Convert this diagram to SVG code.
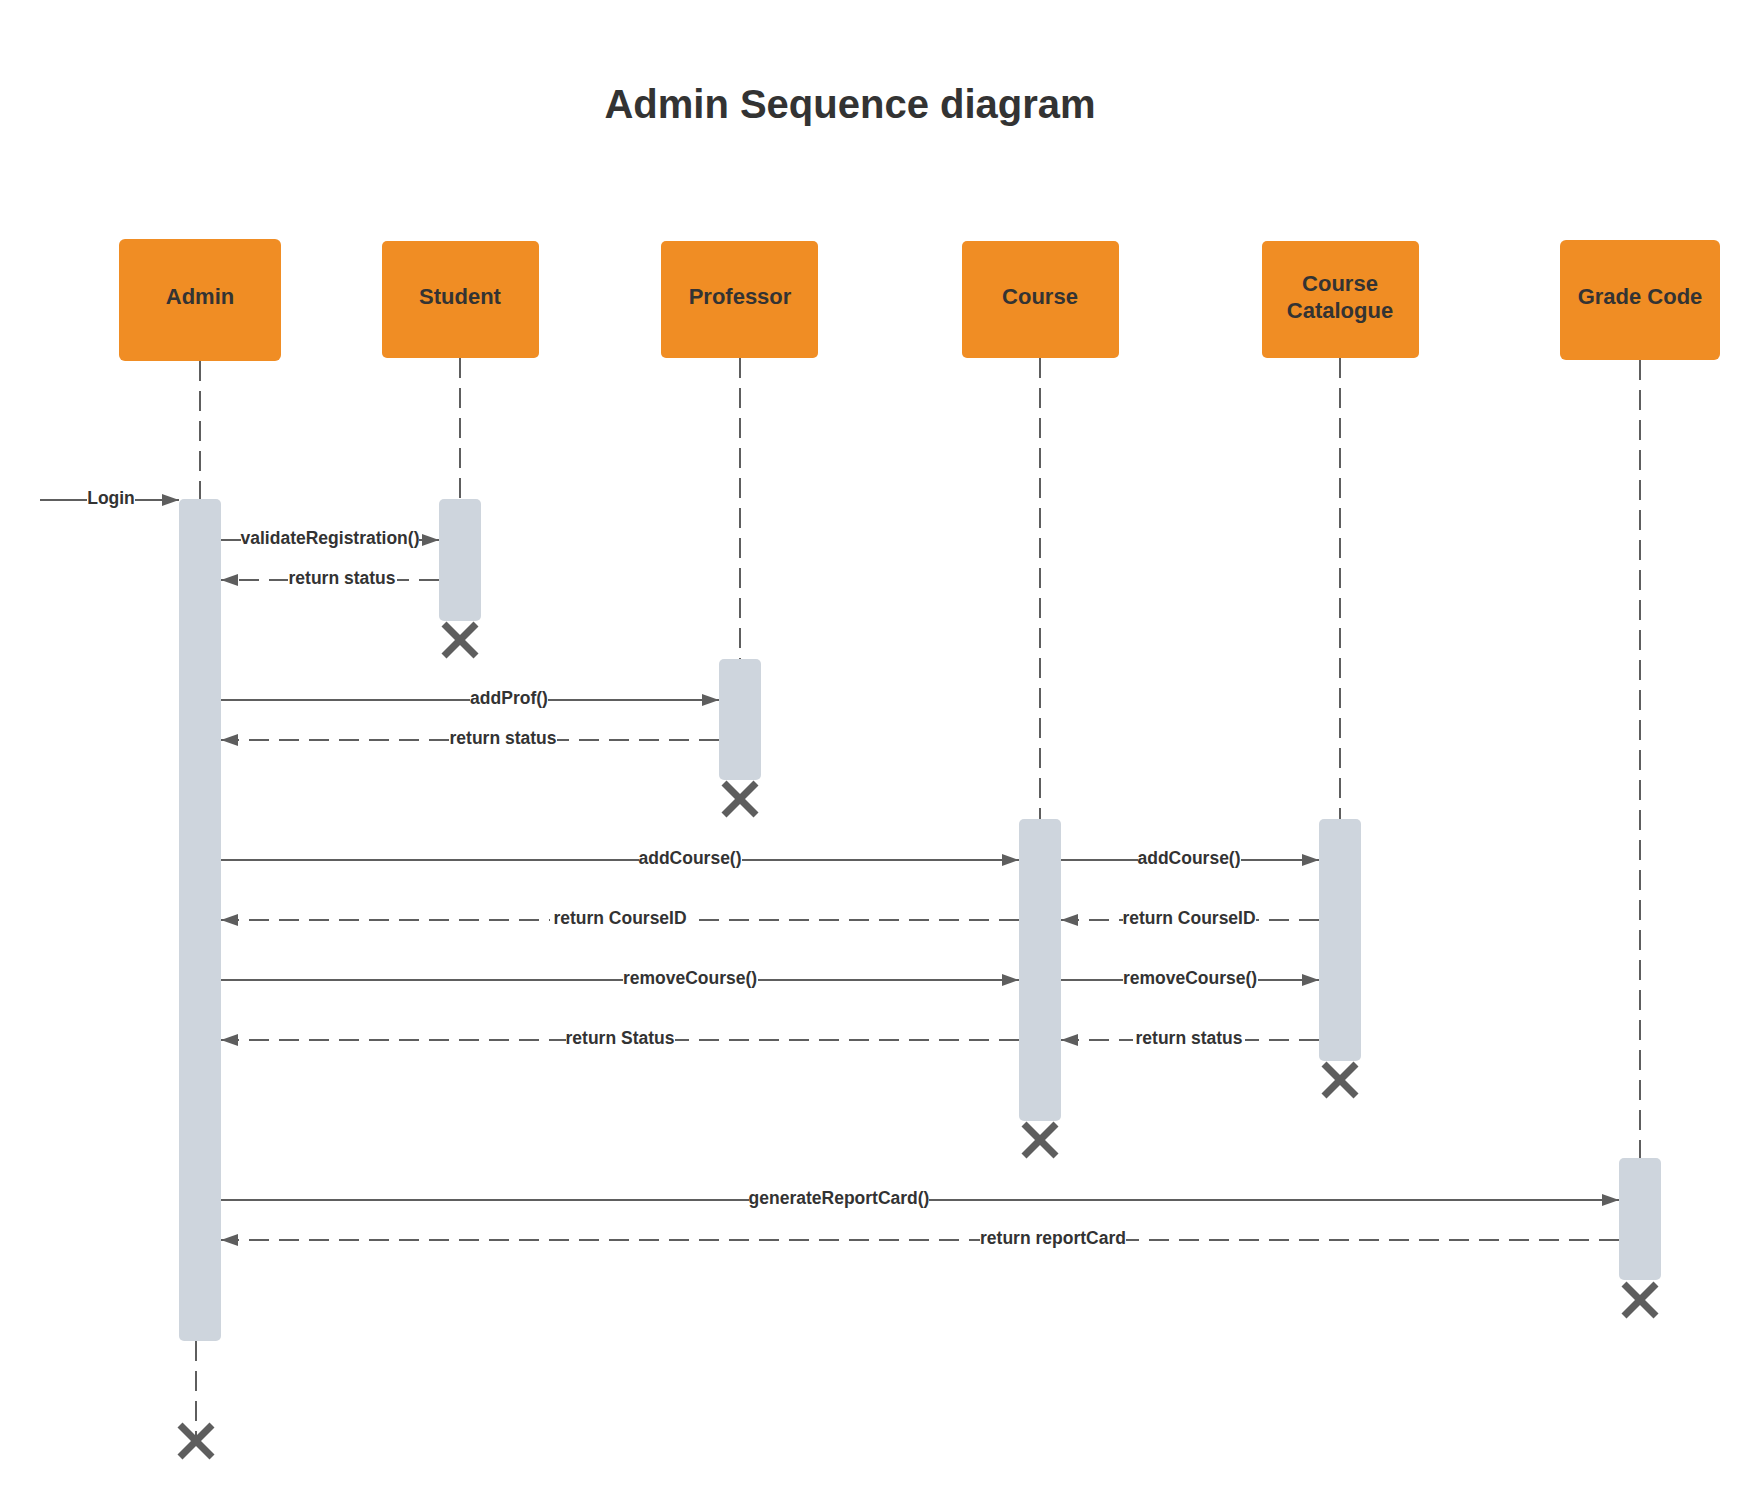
<svg xmlns="http://www.w3.org/2000/svg" width="1760" height="1502" viewBox="0 0 1760 1502">
<defs>
<marker id="arr" markerUnits="userSpaceOnUse" markerWidth="18" markerHeight="14" refX="17" refY="6" orient="auto">
<path d="M0,0 L17,6 L0,12 Z" fill="#5e5e5e"/>
</marker>
</defs>
<style>
.box{fill:#f08d24;}
.act{fill:#ced5dd;}
.life{stroke:#5e5e5e;stroke-width:2;stroke-dasharray:20 10;fill:none;}
.msg{stroke:#5e5e5e;stroke-width:2;fill:none;marker-end:url(#arr);}
.ret{stroke-dasharray:20 10;}
.x{stroke:#5e5e5e;stroke-width:7;}
.bt{font-family:"Liberation Sans",Arial,sans-serif;font-weight:bold;font-size:22px;fill:#333333;text-anchor:middle;}
.lt{font-family:"Liberation Sans",Arial,sans-serif;font-weight:bold;font-size:17.5px;fill:#333333;text-anchor:middle;}
.bg{fill:#ffffff;}
.title{font-family:"Liberation Sans",Arial,sans-serif;font-weight:bold;font-size:40px;fill:#333333;text-anchor:middle;}
</style>
<rect width="1760" height="1502" fill="#ffffff"/>
<text class="title" x="850" y="118">Admin Sequence diagram</text>

<g id="lifelines">
<line class="life" x1="200" y1="361" x2="200" y2="499"/>
<line class="life" x1="460" y1="358" x2="460" y2="499"/>
<line class="life" x1="740" y1="358" x2="740" y2="659"/>
<line class="life" x1="1040" y1="358" x2="1040" y2="819"/>
<line class="life" x1="1340" y1="358" x2="1340" y2="819"/>
<line class="life" x1="1640" y1="360" x2="1640" y2="1158"/>
<line class="life" x1="196" y1="1341" x2="196" y2="1441"/>
</g>

<g id="admin">
<rect class="box" x="119" y="239" width="162" height="122" rx="6"/>
<text class="bt" x="200" y="304">Admin</text>
<rect class="act" x="179" y="499" width="42" height="842" rx="5"/>
<g class="x"><line x1="180" y1="1425" x2="212" y2="1457"/><line x1="212" y1="1425" x2="180" y2="1457"/></g>
</g>

<g id="student">
<rect class="box" x="382" y="241" width="157" height="117" rx="5"/>
<text class="bt" x="460" y="304">Student</text>
<rect class="act" x="439" y="499" width="42" height="122" rx="5"/>
<g class="x"><line x1="444" y1="624" x2="476" y2="656"/><line x1="476" y1="624" x2="444" y2="656"/></g>
</g>

<g id="professor">
<rect class="box" x="661" y="241" width="157" height="117" rx="5"/>
<text class="bt" x="740" y="304">Professor</text>
<rect class="act" x="719" y="659" width="42" height="121" rx="5"/>
<g class="x"><line x1="724" y1="783" x2="756" y2="815"/><line x1="756" y1="783" x2="724" y2="815"/></g>
</g>

<g id="course">
<rect class="box" x="962" y="241" width="157" height="117" rx="5"/>
<text class="bt" x="1040" y="304">Course</text>
<rect class="act" x="1019" y="819" width="42" height="302" rx="5"/>
<g class="x"><line x1="1024" y1="1124" x2="1056" y2="1156"/><line x1="1056" y1="1124" x2="1024" y2="1156"/></g>
</g>

<g id="catalogue">
<rect class="box" x="1262" y="241" width="157" height="117" rx="5"/>
<text class="bt" x="1340" y="291">Course</text>
<text class="bt" x="1340" y="318">Catalogue</text>
<rect class="act" x="1319" y="819" width="42" height="242" rx="5"/>
<g class="x"><line x1="1324" y1="1064" x2="1356" y2="1096"/><line x1="1356" y1="1064" x2="1324" y2="1096"/></g>
</g>

<g id="gradecode">
<rect class="box" x="1560" y="240" width="160" height="120" rx="6"/>
<text class="bt" x="1640" y="304">Grade Code</text>
<rect class="act" x="1619" y="1158" width="42" height="122" rx="5"/>
<g class="x"><line x1="1624" y1="1284" x2="1656" y2="1316"/><line x1="1656" y1="1284" x2="1624" y2="1316"/></g>
</g>

<g id="connectors">
<line class="msg" x1="40" y1="500" x2="179" y2="500"/>
<rect class="bg" x="87" y="489" width="48" height="20"/>
<text class="lt" x="111" y="504">Login</text>

<line class="msg" x1="221" y1="540" x2="439" y2="540"/>
<rect class="bg" x="241" y="529" width="178" height="20"/>
<text class="lt" x="330" y="544">validateRegistration()</text>

<line class="msg ret" x1="439" y1="580" x2="221" y2="580"/>
<rect class="bg" x="288" y="569" width="109" height="20"/>
<text class="lt" x="342" y="584">return status</text>

<line class="msg" x1="221" y1="700" x2="719" y2="700"/>
<rect class="bg" x="470" y="689" width="78" height="20"/>
<text class="lt" x="509" y="704">addProf()</text>

<line class="msg ret" x1="719" y1="740" x2="221" y2="740"/>
<rect class="bg" x="450" y="729" width="107" height="20"/>
<text class="lt" x="503" y="744">return status</text>

<line class="msg" x1="221" y1="860" x2="1019" y2="860"/>
<rect class="bg" x="639" y="849" width="103" height="20"/>
<text class="lt" x="690" y="864">addCourse()</text>

<line class="msg" x1="1061" y1="860" x2="1319" y2="860"/>
<rect class="bg" x="1138" y="849" width="103" height="20"/>
<text class="lt" x="1189" y="864">addCourse()</text>

<line class="msg ret" x1="1319" y1="920" x2="1061" y2="920"/>
<rect class="bg" x="1123" y="909" width="133" height="20"/>
<text class="lt" x="1189" y="924">return CourseID</text>

<line class="msg ret" x1="1019" y1="920" x2="221" y2="920"/>
<rect class="bg" x="550" y="909" width="140" height="20"/>
<text class="lt" x="620" y="924">return CourseID</text>

<line class="msg" x1="221" y1="980" x2="1019" y2="980"/>
<rect class="bg" x="623" y="969" width="135" height="20"/>
<text class="lt" x="690" y="984">removeCourse()</text>

<line class="msg" x1="1061" y1="980" x2="1319" y2="980"/>
<rect class="bg" x="1123" y="969" width="135" height="20"/>
<text class="lt" x="1190" y="984">removeCourse()</text>

<line class="msg ret" x1="1319" y1="1040" x2="1061" y2="1040"/>
<rect class="bg" x="1133" y="1029" width="112" height="20"/>
<text class="lt" x="1189" y="1044">return status</text>

<line class="msg ret" x1="1019" y1="1040" x2="221" y2="1040"/>
<rect class="bg" x="566" y="1029" width="109" height="20"/>
<text class="lt" x="620" y="1044">return Status</text>

<line class="msg" x1="221" y1="1200" x2="1619" y2="1200"/>
<rect class="bg" x="749" y="1189" width="180" height="20"/>
<text class="lt" x="839" y="1204">generateReportCard()</text>

<line class="msg ret" x1="1619" y1="1240" x2="221" y2="1240"/>
<rect class="bg" x="980" y="1229" width="146" height="20"/>
<text class="lt" x="1053" y="1244">return reportCard</text>
</g>
</svg>
